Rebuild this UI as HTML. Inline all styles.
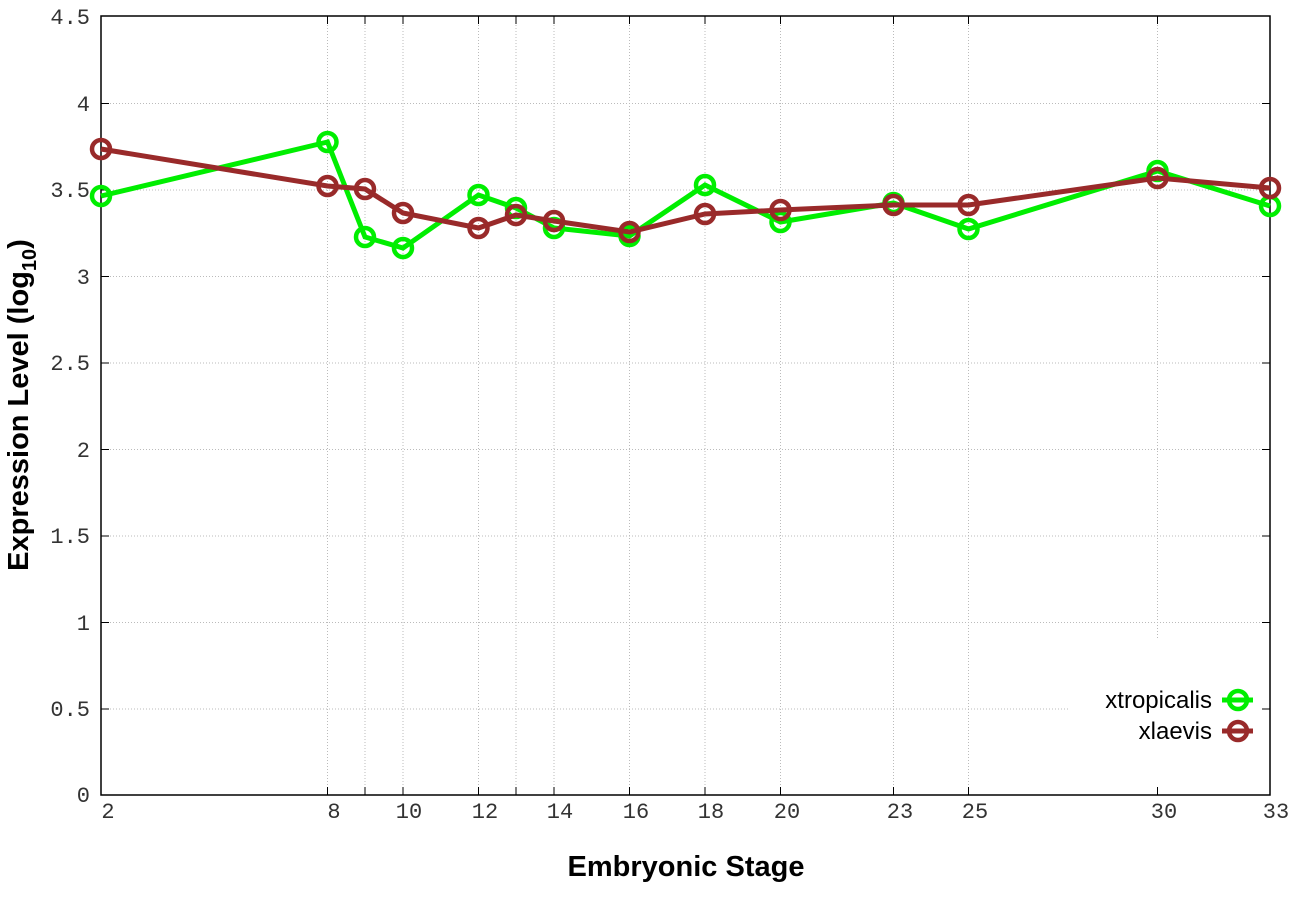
<!DOCTYPE html>
<html><head><meta charset="utf-8"><style>body{margin:0;background:#fff}svg{display:block}</style></head><body>
<svg width="1296" height="907" xmlns="http://www.w3.org/2000/svg">
<g stroke="#bbb" stroke-width="1" stroke-dasharray="1,2">
<line x1="101" x2="1270" y1="103.5" y2="103.5"/><line x1="101" x2="1270" y1="190" y2="190"/><line x1="101" x2="1270" y1="276.5" y2="276.5"/><line x1="101" x2="1270" y1="363" y2="363"/><line x1="101" x2="1270" y1="449.5" y2="449.5"/><line x1="101" x2="1270" y1="536" y2="536"/><line x1="101" x2="1270" y1="622.5" y2="622.5"/><line x1="101" x2="1070" y1="709" y2="709"/>
<line x1="327.5" x2="327.5" y1="16" y2="795"/><line x1="365" x2="365" y1="16" y2="795"/><line x1="403" x2="403" y1="16" y2="795"/><line x1="478.5" x2="478.5" y1="16" y2="795"/><line x1="516" x2="516" y1="16" y2="795"/><line x1="554" x2="554" y1="16" y2="795"/><line x1="629.5" x2="629.5" y1="16" y2="795"/><line x1="705" x2="705" y1="16" y2="795"/><line x1="780.5" x2="780.5" y1="16" y2="795"/><line x1="893.5" x2="893.5" y1="16" y2="795"/><line x1="968.5" x2="968.5" y1="16" y2="795"/><line x1="1157.5" x2="1157.5" y1="16" y2="640"/>
</g>
<rect x="101" y="16" width="1169" height="779" fill="none" stroke="#000" stroke-width="1.5"/>
<g stroke="#000" stroke-width="1">
<path d="M101 103.5h8M101 190h8M101 276.5h8M101 363h8M101 449.5h8M101 536h8M101 622.5h8M101 709h8M1270 103.5h-8M1270 190h-8M1270 276.5h-8M1270 363h-8M1270 449.5h-8M1270 536h-8M1270 622.5h-8M1270 709h-8"/>
<path d="M327.5 795v-8M365 795v-8M403 795v-8M478.5 795v-8M516 795v-8M554 795v-8M629.5 795v-8M705 795v-8M780.5 795v-8M893.5 795v-8M968.5 795v-8M1157.5 795v-8M327.5 16v8M365 16v8M403 16v8M478.5 16v8M516 16v8M554 16v8M629.5 16v8M705 16v8M780.5 16v8M893.5 16v8M968.5 16v8M1157.5 16v8"/>
</g>
<g font-family="Liberation Mono, monospace" font-size="22" fill="#333" text-anchor="end">
<text x="90" y="24">4.5</text><text x="90" y="111">4</text><text x="90" y="197">3.5</text><text x="90" y="284">3</text><text x="90" y="370">2.5</text><text x="90" y="457">2</text><text x="90" y="543">1.5</text><text x="90" y="630">1</text><text x="90" y="716">0.5</text><text x="90" y="802">0</text>
</g>
<g font-family="Liberation Mono, monospace" font-size="22" fill="#333" text-anchor="middle">
<text x="108" y="818">2</text><text x="334" y="818">8</text><text x="409" y="818">10</text><text x="485" y="818">12</text><text x="560" y="818">14</text><text x="636" y="818">16</text><text x="711" y="818">18</text><text x="787" y="818">20</text><text x="900" y="818">23</text><text x="975" y="818">25</text><text x="1164" y="818">30</text><text x="1276" y="818">33</text>
</g>
<text x="686" y="876" font-family="Liberation Sans, sans-serif" font-weight="bold" font-size="29" text-anchor="middle">Embryonic Stage</text>
<text transform="translate(28,405) rotate(-90)" font-family="Liberation Sans, sans-serif" font-weight="bold" font-size="29" text-anchor="middle">Expression Level (log<tspan font-size="20" dy="8">10</tspan><tspan dy="-8">)</tspan></text>
<g fill="none" stroke="#00ee00" stroke-width="5">
<polyline points="101,196 327.5,142 365,237 403,248 478.5,195 516,208 554,228 629.5,236 705,185 780.5,222 893.5,203 968.5,229 1157.5,171 1270,206"/>
<g stroke-width="4.5"><circle cx="101" cy="196" r="9"/><circle cx="327.5" cy="142" r="9"/><circle cx="365" cy="237" r="9"/><circle cx="403" cy="248" r="9"/><circle cx="478.5" cy="195" r="9"/><circle cx="516" cy="208" r="9"/><circle cx="554" cy="228" r="9"/><circle cx="629.5" cy="236" r="9"/><circle cx="705" cy="185" r="9"/><circle cx="780.5" cy="222" r="9"/><circle cx="893.5" cy="203" r="9"/><circle cx="968.5" cy="229" r="9"/><circle cx="1157.5" cy="171" r="9"/><circle cx="1270" cy="206" r="9"/></g>
</g>
<g fill="none" stroke="#992a2a" stroke-width="5">
<polyline points="101,149 327.5,186 365,189 403,213 478.5,228 516,215 554,221 629.5,232 705,214 780.5,210 893.5,205 968.5,205 1157.5,178 1270,188"/>
<g stroke-width="4.5"><circle cx="101" cy="149" r="9"/><circle cx="327.5" cy="186" r="9"/><circle cx="365" cy="189" r="9"/><circle cx="403" cy="213" r="9"/><circle cx="478.5" cy="228" r="9"/><circle cx="516" cy="215" r="9"/><circle cx="554" cy="221" r="9"/><circle cx="629.5" cy="232" r="9"/><circle cx="705" cy="214" r="9"/><circle cx="780.5" cy="210" r="9"/><circle cx="893.5" cy="205" r="9"/><circle cx="968.5" cy="205" r="9"/><circle cx="1157.5" cy="178" r="9"/><circle cx="1270" cy="188" r="9"/></g>
</g>
<g font-family="Liberation Sans, sans-serif" font-size="24" text-anchor="end" fill="#000">
<text x="1212" y="708">xtropicalis</text><text x="1212" y="739">xlaevis</text>
</g>
<g fill="none" stroke-width="5">
<line x1="1222" x2="1253" y1="700" y2="700" stroke="#00ee00"/><circle cx="1238" cy="700" r="9" stroke="#00ee00" stroke-width="4.5"/>
<line x1="1222" x2="1253" y1="731" y2="731" stroke="#992a2a"/><circle cx="1238" cy="731" r="9" stroke="#992a2a" stroke-width="4.5"/>
</g>
</svg>
</body></html>
